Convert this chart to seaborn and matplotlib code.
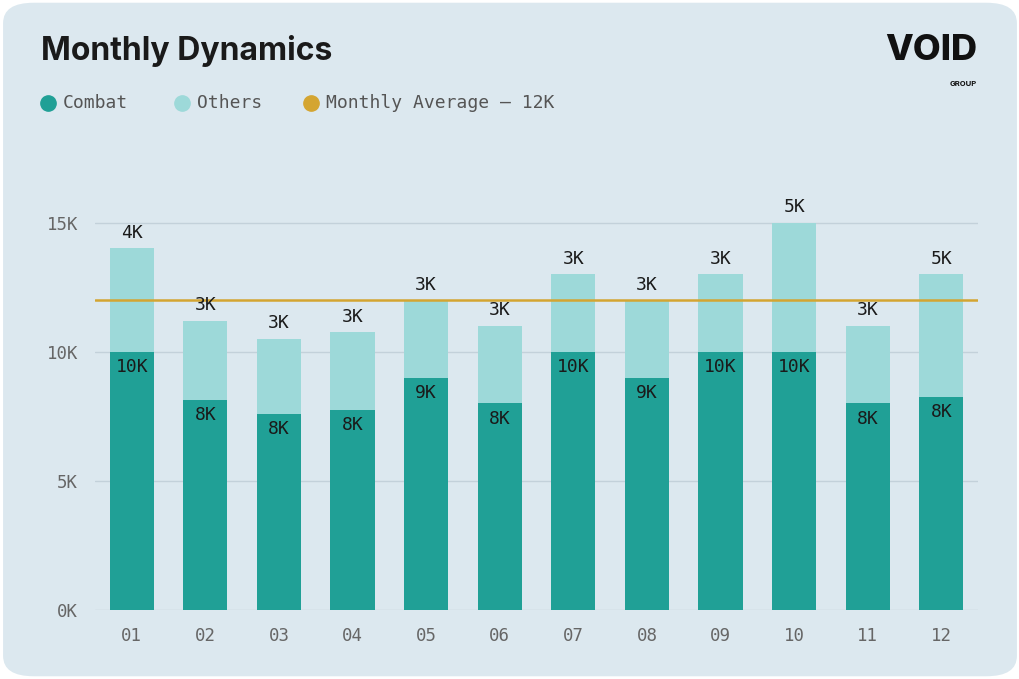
import numpy as np
import pandas as pd
import matplotlib.pyplot as plt
import seaborn as sns
from matplotlib.patches import FancyBboxPatch
from matplotlib.lines import Line2D

months = ["01", "02", "03", "04", "05", "06", "07", "08", "09", "10", "11", "12"]
combat = [10.0, 8.15, 7.6, 7.75, 9.0, 8.0, 10.0, 9.0, 10.0, 10.0, 8.0, 8.25]
others = [4.0, 3.05, 2.9, 3.0, 3.0, 3.0, 3.0, 3.0, 3.0, 5.0, 3.0, 4.75]
monthly_avg = 12.0

c_combat = "#20a096"
c_others = "#9dd9d9"
c_avg = "#d4a531"
bg = "#dce8ef"
mono = "DejaVu Sans Mono"

df = pd.DataFrame({"month": months, "combat": combat, "others": others})
df["total"] = df["combat"] + df["others"]

sns.set_style("white")
fig = plt.figure(figsize=(10.2, 6.79), dpi=100)
fig.patch.set_alpha(0)
fig.patches.append(FancyBboxPatch((0.003, 0.004), 0.994, 0.992, boxstyle="round,pad=0,rounding_size=0.03",
                                  transform=fig.transFigure, facecolor=bg, edgecolor="none", zorder=-1))

ax = fig.add_axes([0.093, 0.1016, 0.866, 0.677])
ax.set_facecolor("none")
sns.barplot(data=df, x="month", y="total", color=c_others, width=0.6, saturation=1,
            linewidth=0, ax=ax, zorder=2)
sns.barplot(data=df, x="month", y="combat", color=c_combat, width=0.6, saturation=1,
            linewidth=0, ax=ax, zorder=3)

ax.axhline(monthly_avg, color=c_avg, lw=1.8, zorder=4)
for y in [0, 5, 10, 15]:
    ax.axhline(y, color="#c3d1da", lw=1, zorder=1)

for i, row in df.iterrows():
    ax.text(i, row["total"] + 0.25, f"{row['others']:.0f}K", ha="center", va="bottom",
            fontsize=13, family=mono, color="#1a1a1a", zorder=5)
    ax.text(i, row["combat"] - 0.25, f"{row['combat']:.0f}K", ha="center", va="top",
            fontsize=13, family=mono, color="#1a1a1a", zorder=5)

ax.set_xlim(-0.5, 11.5)
ax.set_ylim(0, 17.8)
ax.set_yticks([0, 5, 10, 15])
ax.set_yticklabels(["0K", "5K", "10K", "15K"])
ax.set_xlabel("")
ax.set_ylabel("")
for lab in ax.get_xticklabels() + ax.get_yticklabels():
    lab.set_family(mono)
    lab.set_fontsize(12.5)
    lab.set_color("#666666")
ax.tick_params(length=0, pad=12)
sns.despine(ax=ax, left=True, bottom=True)

fig.text(0.04, 0.925, "Monthly Dynamics", fontsize=23, fontweight="bold", family="Inter", color="#1a1a1a", va="center")

# legend
legend_items = [("Combat", c_combat, 0.047), ("Others", c_others, 0.178), ("Monthly Average — 12K", c_avg, 0.305)]
for name, col, x in legend_items:
    fig.lines.append(Line2D([x], [0.849], marker="o", markersize=11, color=col, lw=0,
                            transform=fig.transFigure, figure=fig))
    fig.text(x + 0.015, 0.849, name, fontsize=13, family=mono, color="#555555", va="center")

# logo
fig.text(0.958, 0.925, "VOID", fontsize=26, fontweight="heavy", family="Inter", color="#111111",
         ha="right", va="center")
fig.text(0.958, 0.876, "GROUP", fontsize=5.5, fontweight="bold", family="Inter", color="#111111",
         ha="right", va="center")

fig.savefig("out.png", dpi=100, transparent=False)
